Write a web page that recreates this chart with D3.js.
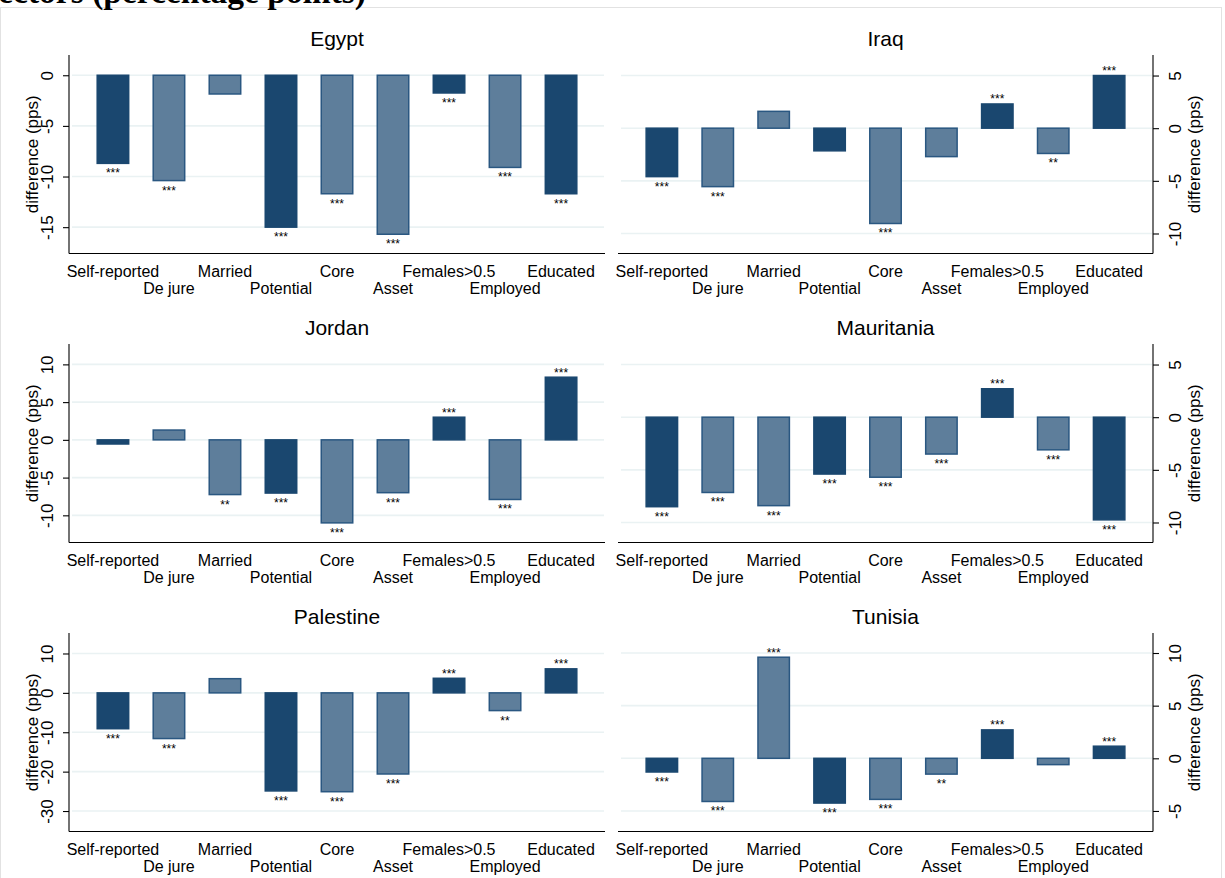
<!DOCTYPE html>
<html>
<head>
<meta charset="utf-8">
<script src="https://cdn.jsdelivr.net/npm/d3@7"></script>
<style>
  html, body { margin: 0; padding: 0; background: #fff; }
  svg { display: block; }
  text { font-family: "Liberation Sans", Arial, sans-serif; fill: #000; }
</style>
</head>
<body>
<svg id="chart" width="1225" height="878"></svg>
<script>
// Categories of household headship definitions
const categories = ["Self-reported", "De jure", "Married", "Potential", "Core",
                    "Asset", "Females>0.5", "Employed", "Educated"];
const darkCategories = ["Self-reported", "Potential", "Females>0.5", "Educated"];

const countries = ["Egypt", "Iraq", "Jordan", "Mauritania", "Palestine", "Tunisia"];

// Difference in percentage points, one value per category
const egyptValues      = [-8.7, -10.4, -1.85, -15.0, -11.7, -15.7, -1.75, -9.1, -11.7];
const iraqValues       = [-4.6, -5.55, 1.6, -2.15, -9.05, -2.7, 2.3, -2.4, 5.0];
const jordanValues     = [-0.55, 1.3, -7.25, -7.05, -11.0, -7.0, 3.0, -7.9, 8.3];
const mauritaniaValues = [-8.5, -7.15, -8.4, -5.4, -5.7, -3.5, 2.7, -3.1, -9.75];
const palestineValues  = [-9.1, -11.6, 3.6, -24.9, -25.1, -20.6, 3.7, -4.5, 6.1];
const tunisiaValues    = [-1.3, -4.1, 9.6, -4.25, -3.9, -1.5, 2.7, -0.6, 1.15];

// Significance markers
const egyptStars      = ["***", "***", "", "***", "***", "***", "***", "***", "***"];
const iraqStars       = ["***", "***", "", "", "***", "", "***", "**", "***"];
const jordanStars     = ["", "", "**", "***", "***", "***", "***", "***", "***"];
const mauritaniaStars = ["***", "***", "***", "***", "***", "***", "***", "***", "***"];
const palestineStars  = ["***", "***", "", "***", "***", "***", "***", "**", "***"];
const tunisiaStars    = ["***", "***", "***", "***", "***", "**", "***", "", "***"];

// Axis ticks and ranges
const egyptTicks      = [0, -5, -10, -15];
const iraqTicks       = [5, 0, -5, -10];
const jordanTicks     = [10, 5, 0, -5, -10];
const mauritaniaTicks = [5, 0, -5, -10];
const palestineTicks  = [10, 0, -10, -20, -30];
const tunisiaTicks    = [10, 5, 0, -5];

const egyptRange      = [-17.6, 2.0];
const iraqRange       = [-11.9, 6.95];
const jordanRange     = [-13.6, 12.7];
const mauritaniaRange = [-11.9, 6.95];
const palestineRange  = [-35.2, 15.2];
const tunisiaRange    = [-6.95, 11.9];

const valuesList = [egyptValues, iraqValues, jordanValues, mauritaniaValues, palestineValues, tunisiaValues];
const starsList  = [egyptStars, iraqStars, jordanStars, mauritaniaStars, palestineStars, tunisiaStars];
const ticksList  = [egyptTicks, iraqTicks, jordanTicks, mauritaniaTicks, palestineTicks, tunisiaTicks];
const rangeList  = [egyptRange, iraqRange, jordanRange, mauritaniaRange, palestineRange, tunisiaRange];

const DARK = "#1a476f";
const LIGHT = "#5e7e9b";
const LIGHT_STROKE = "#2a5781";
const GRID = "#eaf2f3";

const svg = d3.select("#chart");

// Outer frame and the heading running off the top edge
svg.append("rect")
  .attr("x", 0.5).attr("y", 7.5).attr("width", 1221).attr("height", 880)
  .attr("fill", "none").attr("stroke", "#e2e2e2").attr("stroke-width", 1);

svg.append("text")
  .attr("x", 366).attr("y", 3)
  .attr("text-anchor", "end")
  .style("font-family", "'Liberation Serif', 'Times New Roman', serif")
  .style("font-weight", "bold")
  .style("font-size", "33.5px")
  .text("sectors (percentage points)");

const columns = [
  { x0: 69, x1: 605, side: "left" },
  { x0: 618, x1: 1153, side: "right" }
];
const rowStep = 289;
const plotTop = 55;
const plotBottom = 253.5;

countries.forEach((country, i) => {
  const col = columns[i % 2];
  const r = Math.floor(i / 2);
  const top = plotTop + r * rowStep;
  const bottom = plotBottom + r * rowStep;

  const values = valuesList[i];
  const stars = starsList[i];

  const x = d3.scaleBand()
    .domain(categories)
    .range([col.x0, col.x1])
    .paddingInner(0.411)
    .paddingOuter(0.49);

  const y = d3.scaleLinear()
    .domain(rangeList[i])
    .range([bottom, top]);

  const g = svg.append("g");

  // Gridlines
  g.selectAll("line.grid")
    .data(ticksList[i])
    .join("line")
    .attr("class", "grid")
    .attr("x1", col.x0 + 3).attr("x2", col.x1 - 1)
    .attr("y1", d => y(d)).attr("y2", d => y(d))
    .attr("stroke", GRID).attr("stroke-width", 1.6);

  // Bars
  const data = categories.map((c, k) => ({ cat: c, v: values[k], s: stars[k] }));
  g.selectAll("rect.bar")
    .data(data)
    .join("rect")
    .attr("class", "bar")
    .attr("x", d => x(d.cat) + 0.75)
    .attr("width", x.bandwidth() - 1.5)
    .attr("y", d => Math.min(y(d.v), y(0)))
    .attr("height", d => Math.abs(y(d.v) - y(0)))
    .attr("fill", d => darkCategories.includes(d.cat) ? DARK : LIGHT)
    .attr("stroke", d => darkCategories.includes(d.cat) ? DARK : LIGHT_STROKE)
    .attr("stroke-width", 1.5);

  // Significance stars beyond each bar end
  g.selectAll("text.star")
    .data(data.filter(d => d.s))
    .join("text")
    .attr("class", "star")
    .attr("x", d => x(d.cat) + x.bandwidth() / 2)
    .attr("y", d => d.v < 0 ? y(d.v) + 14 : y(d.v) - 0.5)
    .attr("text-anchor", "middle")
    .style("font-size", "12px")
    .text(d => d.s);

  // Value axis
  const axis = col.side === "left" ? d3.axisLeft(y) : d3.axisRight(y);
  const ax = g.append("g")
    .attr("transform", `translate(${col.side === "left" ? col.x0 : col.x1},0)`)
    .call(axis.tickValues(ticksList[i]).tickSize(6).tickPadding(0).tickFormat(d3.format("d")));
  ax.select(".domain").attr("d", `M0,${top}V${bottom}`).attr("stroke", "#000").attr("stroke-width", 1.1);
  ax.selectAll(".tick line").attr("stroke", "#000").attr("stroke-width", 1.1);
  ax.selectAll(".tick text")
    .attr("x", null).attr("dy", null)
    .attr("text-anchor", "middle")
    .attr("transform", col.side === "left" ? "translate(-16,0) rotate(-90)" : "translate(28,0) rotate(-90)")
    .style("font-size", "17px")
    .style("font-family", "'Liberation Sans', Arial, sans-serif")
    .attr("fill", "#000")
    .text(d => d < 0 ? "-" + Math.abs(d) : d);

  // Axis title
  const titleX = col.side === "left" ? col.x0 - 31 : col.x1 + 47;
  g.append("text")
    .attr("transform", `translate(${titleX},${(top + bottom) / 2}) rotate(-90)`)
    .attr("text-anchor", "middle")
    .style("font-size", "17px")
    .text("difference (pps)");

  // Category axis line
  g.append("line")
    .attr("x1", col.x0).attr("x2", col.x1)
    .attr("y1", bottom).attr("y2", bottom)
    .attr("stroke", "#000").attr("stroke-width", 1.1);

  // Category labels, staggered on two lines
  g.selectAll("text.cat")
    .data(categories)
    .join("text")
    .attr("class", "cat")
    .attr("x", d => x(d) + x.bandwidth() / 2)
    .attr("y", (d, k) => bottom + (k % 2 === 0 ? 23.5 : 40.5))
    .attr("text-anchor", "middle")
    .style("font-size", "16px")
    .text(d => d);

  // Panel title
  svg.append("text")
    .attr("x", (col.x0 + col.x1) / 2)
    .attr("y", top - 9)
    .attr("text-anchor", "middle")
    .style("font-size", "21px")
    .text(country);
});
</script>
</body>
</html>
